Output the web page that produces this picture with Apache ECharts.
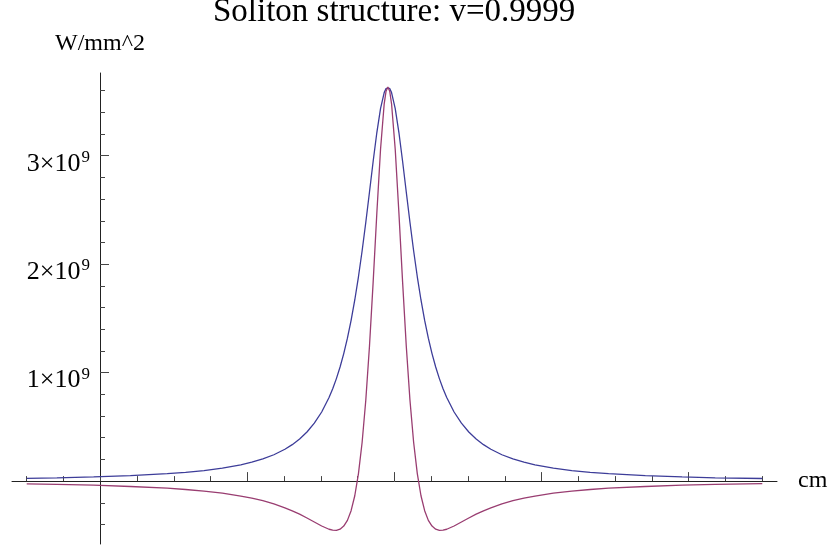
<!DOCTYPE html>
<html>
<head>
<meta charset="utf-8">
<script src="https://cdn.jsdelivr.net/npm/echarts@6/dist/echarts.min.js"></script>
<style>
html,body{margin:0;padding:0;background:#fff;}
#chart{width:829px;height:550px;}
</style>
</head>
<body>
<div id="chart"></div>
<script>
// position along the beam, cm
const xValues = [8.9500, 8.9541, 8.9591, 8.9641, 8.9691, 8.9716, 8.9741, 8.9766, 8.9791, 8.9806,
  8.9821, 8.9836, 8.9851, 8.9861, 8.9871, 8.9881, 8.9891, 8.9901, 8.9911, 8.9916,
  8.9921, 8.9926, 8.9931, 8.9936, 8.9941, 8.9946, 8.9951, 8.9956, 8.9961, 8.9966,
  8.9971, 8.9976, 8.9981, 8.9986, 8.99885, 8.9991, 8.99935, 8.9996, 9.0001, 9.0006, 9.0011, 9.0016,
  9.0021, 9.0026, 9.0031, 9.0036, 9.0041, 9.0046, 9.0051, 9.0056, 9.0061, 9.0066,
  9.0071, 9.0081, 9.0091, 9.0101, 9.0111, 9.0121, 9.0131, 9.0146, 9.0161, 9.0176,
  9.0191, 9.0216, 9.0241, 9.0266, 9.0291, 9.0341, 9.0391, 9.0436, 9.0500];
// intensity (blue curve), units of 10^9 W/mm^2
const blueValues = [0.0258, 0.0306, 0.0387, 0.0504, 0.0682, 0.0809, 0.0975, 0.1196, 0.150, 0.1741,
  0.204, 0.2431, 0.294, 0.3361, 0.388, 0.4528, 0.534, 0.637, 0.771, 0.852,
  0.945, 1.052, 1.176, 1.318, 1.482, 1.670, 1.884, 2.124, 2.387, 2.666,
  2.949, 3.214, 3.434, 3.582, 3.621, 3.634, 3.621, 3.582, 3.434, 3.214, 2.949, 2.666,
  2.387, 2.124, 1.884, 1.670, 1.482, 1.318, 1.176, 1.052, 0.945, 0.852,
  0.771, 0.637, 0.534, 0.4528, 0.388, 0.3361, 0.294, 0.2431, 0.204, 0.1741,
  0.150, 0.1196, 0.0975, 0.0809, 0.0682, 0.0504, 0.0387, 0.0306, 0.0240];
// second (purple) curve, units of 10^9 W/mm^2
const purpleValues = [-0.0254, -0.0301, -0.0379, -0.0497, -0.0657, -0.0773, -0.0922, -0.1117, -0.138, -0.1574,
  -0.181, -0.2106, -0.246, -0.274, -0.305, -0.340, -0.377, -0.414, -0.444, -0.4525,
  -0.4535, -0.443, -0.415, -0.362, -0.273, -0.135, 0.069, 0.358, 0.748, 1.246,
  1.837, 2.472, 3.058, 3.479, 3.595, 3.634, 3.595, 3.479, 3.058, 2.472, 1.837, 1.246,
  0.748, 0.358, 0.069, -0.135, -0.273, -0.362, -0.415, -0.443, -0.4535, -0.4525,
  -0.444, -0.414, -0.377, -0.340, -0.305, -0.274, -0.246, -0.2106, -0.181, -0.1574,
  -0.138, -0.1117, -0.0922, -0.0773, -0.0657, -0.0497, -0.0379, -0.0301, -0.0237];

const xMajorTicks = [8.98, 9.00, 9.02, 9.04];
const xMinorTicks = [8.95, 8.955, 8.96, 8.965, 8.97, 8.975, 8.985, 8.99, 8.995,
  9.005, 9.01, 9.015, 9.025, 9.03, 9.035, 9.045, 9.05];
const yMajorTicks = [1, 2, 3];
const yMinorTicks = [-0.4, -0.2, 0.2, 0.4, 0.6, 0.8, 1.2, 1.4, 1.6, 1.8, 2.2, 2.4, 2.6, 2.8, 3.2, 3.4, 3.6];

const FONT = "'Liberation Serif','Times New Roman',serif";
const AXIS_COLOR = '#222';
const TICK_COLOR = '#444';

const blueData = xValues.map((x, i) => [x, blueValues[i]]);
const purpleData = xValues.map((x, i) => [x, purpleValues[i]]);

const chart = echarts.init(document.getElementById('chart'), null, {renderer: 'canvas'});
chart.setOption({
  animation: false,
  backgroundColor: '#fff',
  title: {
    text: 'Soliton structure: v=0.9999',
    left: 213,
    top: -4,
    padding: 0,
    textStyle: {fontFamily: FONT, fontSize: 33, fontWeight: 'normal', color: '#000'}
  },
  grid: {left: 12, right: 52, top: 73, bottom: 6, containLabel: false, outerBoundsMode: 'none'},
  xAxis: [
    {
      type: 'value', position: 'bottom', min: 8.948, max: 9.052,
      name: 'cm', nameLocation: 'end', nameGap: 21,
      nameTextStyle: {fontFamily: FONT, fontSize: 24, color: '#000', verticalAlign: 'middle'},
      axisLine: {show: true, onZero: true, onZeroAxisIndex: 0, lineStyle: {color: AXIS_COLOR, width: 1}},
      axisTick: {show: true, inside: true, length: 5, customValues: xMinorTicks, lineStyle: {color: TICK_COLOR, width: 1}},
      axisLabel: {show: true, customValues: xMajorTicks, margin: 8, fontFamily: FONT, fontSize: 25, color: '#000',
        formatter: v => v.toFixed(2)},
      splitLine: {show: false}
    },
    {
      type: 'value', position: 'bottom', min: 8.948, max: 9.052,
      axisLine: {show: false, onZero: true, onZeroAxisIndex: 0},
      axisTick: {show: true, inside: true, length: 9, customValues: xMajorTicks, lineStyle: {color: TICK_COLOR, width: 1}},
      axisLabel: {show: false},
      splitLine: {show: false}
    }
  ],
  yAxis: [
    {
      type: 'value', position: 'left', offset: -88, min: -0.58, max: 3.763,
      name: 'W/mm^2', nameLocation: 'end', nameGap: 17,
      nameTextStyle: {fontFamily: FONT, fontSize: 24, color: '#000', align: 'center'},
      axisLine: {show: true, onZero: false, lineStyle: {color: AXIS_COLOR, width: 1}},
      axisTick: {show: true, inside: true, length: 9, customValues: yMajorTicks, lineStyle: {color: TICK_COLOR, width: 1}},
      axisLabel: {
        show: true, customValues: yMajorTicks, margin: 10,
        formatter: v => '{a|' + v + '×10}{b|9}',
        rich: {
          a: {fontFamily: FONT, fontSize: 26, lineHeight: 26, padding: [8, 0, 0, 0], verticalAlign: 'top', color: '#000'},
          b: {fontFamily: FONT, fontSize: 17, lineHeight: 17, padding: [6, 0, 0, 1], verticalAlign: 'top', color: '#000'}
        }
      },
      splitLine: {show: false}
    },
    {
      type: 'value', position: 'left', offset: -88, min: -0.58, max: 3.763,
      axisLine: {show: false, onZero: false},
      axisTick: {show: true, inside: true, length: 5, customValues: yMinorTicks, lineStyle: {color: TICK_COLOR, width: 1}},
      axisLabel: {show: false},
      splitLine: {show: false}
    }
  ],
  series: [
    {
      type: 'line', xAxisIndex: 0, yAxisIndex: 0, data: blueData,
      showSymbol: false, smooth: false,
      lineStyle: {color: '#3d3d99', width: 1.3}, itemStyle: {color: '#3d3d99'}
    },
    {
      type: 'line', xAxisIndex: 0, yAxisIndex: 0, data: purpleData,
      showSymbol: false, smooth: false,
      lineStyle: {color: '#993d71', width: 1.3}, itemStyle: {color: '#993d71'}
    }
  ]
});
</script>
</body>
</html>
